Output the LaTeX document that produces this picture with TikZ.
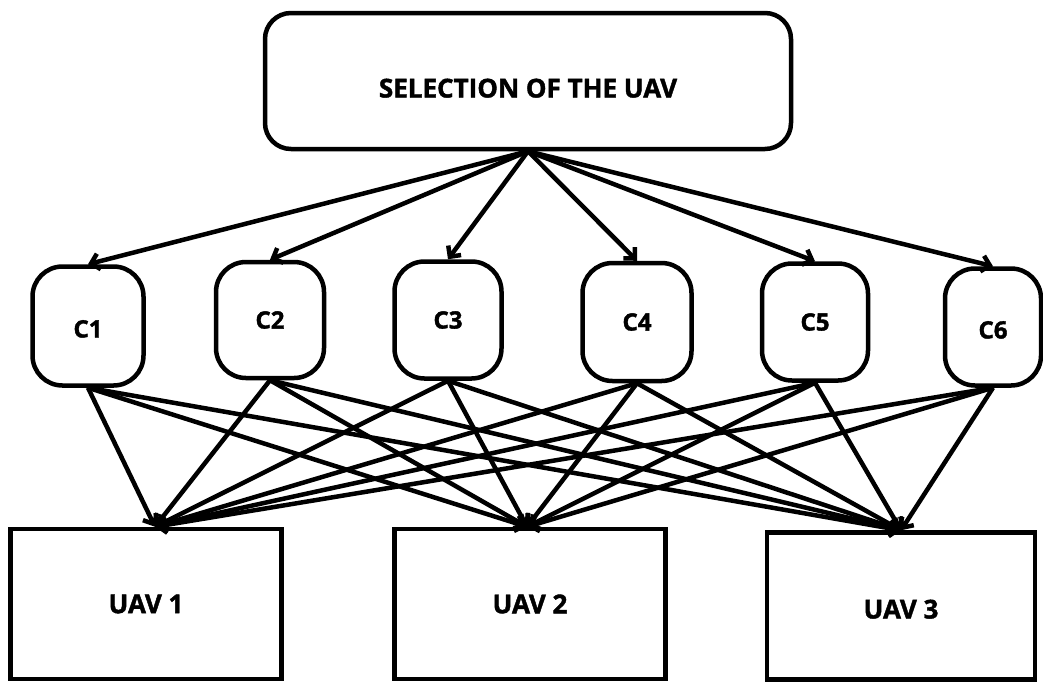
\documentclass[tikz,border=0pt]{standalone}
\usepackage{fontspec}
\setmainfont{Open Sans}
\newfontfamily\heavy[FakeBold=1.6]{Open Sans Bold}
\usetikzlibrary{arrows.meta}
\tikzset{
  lbl/.style={font=\fontsize{26}{30}\selectfont\heavy},
  clbl/.style={font=\fontsize{24}{28}\selectfont\heavy},
  topbox/.style={draw, line width=4.5pt, rounded corners=26pt, minimum width=526pt, minimum height=136pt, lbl},
  cbox/.style={draw, line width=4.5pt, rounded corners=30pt, clbl, inner sep=0pt},
  ubox/.style={draw, line width=4.5pt, lbl, minimum width=271pt, minimum height=150pt},
  arr/.style={line width=4.5pt, -{Straight Barb[length=8pt,width=16pt]}},
}
\begin{document}
\begin{tikzpicture}[x=1pt,y=-1pt]
\useasboundingbox (0,0) rectangle (1043,681);
\fill[white] (0,0) rectangle (1043,681);
\node[topbox] (top) at (528,81) {\raisebox{-7pt}[19pt][0pt]{SELECTION OF THE UAV}};
\node[cbox, minimum width=111pt, minimum height=119pt] (c1) at (88,326) {\raisebox{-3pt}[17pt][0pt]{C1}};
\node[cbox, minimum width=108pt, minimum height=116pt] (c2) at (270,320) {C2};
\node[cbox, minimum width=107pt, minimum height=117pt] (c3) at (448,320) {C3};
\node[cbox, minimum width=109pt, minimum height=118pt] (c4) at (637,322) {C4};
\node[cbox, minimum width=106pt, minimum height=117pt] (c5) at (815,322) {C5};
\node[cbox, minimum width=96pt, minimum height=117pt] (c6) at (993,327) {\raisebox{-3pt}[17pt][0pt]{C6}};
\node[ubox] (u1) at (146,604) {UAV 1};
\node[ubox] (u2) at (530,604) {UAV 2};
\node[ubox, minimum width=268pt, minimum height=147pt] (u3) at (901,606) {\raisebox{-3pt}[19pt][0pt]{UAV 3}};
\coordinate (s) at (top.south);
\foreach \c in {c1,c2,c3,c4,c5,c6}{
  \draw[arr] (s) -- (\c.north);
}
\foreach \c in {c1,c2,c3,c4,c5,c6}{
  \draw[arr] (\c.south) -- ([xshift=9pt]u1.north);
  \draw[arr] (\c.south) -- ([xshift=-3pt]u2.north);
  \draw[arr] (\c.south) -- (u3.north);
}
\end{tikzpicture}
\end{document}
